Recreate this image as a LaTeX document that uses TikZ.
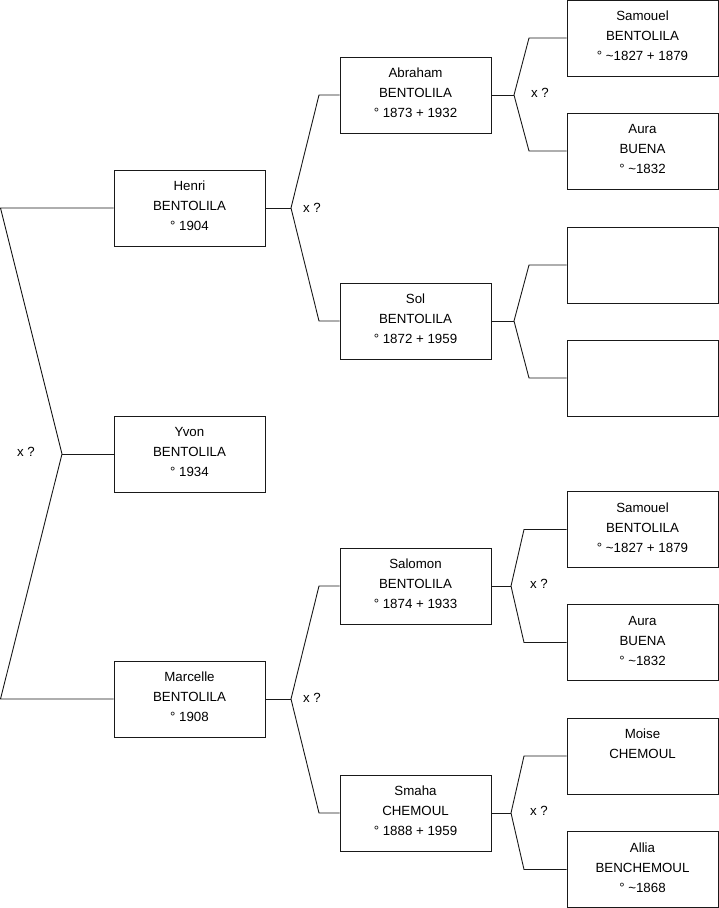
\documentclass[tikz,border=0pt]{standalone}
\usepackage{fontspec}
\setmainfont{Liberation Sans}
\begin{document}
\begin{tikzpicture}[x=1pt,y=-1pt,
  person/.style={draw=black!90, line width=0.9pt, minimum width=151pt, minimum height=76pt,
    inner sep=0pt, align=center, font=\fontsize{13.3}{20}\selectfont,
    execute at end node={\rule[-4pt]{0pt}{4pt}}},
  link/.style={draw=black!90, line width=0.9pt},
  xq/.style={font=\fontsize{13.3}{16}\selectfont, inner sep=0pt}]
\useasboundingbox (0,0) rectangle (719,908);

% generation 1
\node[person] (henri) at (189.5,208) {Henri\\BENTOLILA\\° 1904};
\node[person] (yvon) at (189.5,454) {Yvon\\BENTOLILA\\° 1934};
\node[person] (marcelle) at (189.5,699) {Marcelle\\BENTOLILA\\° 1908};

% generation 2
\node[person] (abraham) at (415.5,95) {Abraham\\BENTOLILA\\° 1873 + 1932};
\node[person] (sol) at (415.5,321) {Sol\\BENTOLILA\\° 1872 + 1959};
\node[person] (salomon) at (415.5,586) {Salomon\\BENTOLILA\\° 1874 + 1933};
\node[person] (smaha) at (415.5,813) {Smaha\\CHEMOUL\\° 1888 + 1959};

% generation 3
\node[person] (samouel) at (642.5,38) {Samouel\\BENTOLILA\\° \textasciitilde1827 + 1879};
\node[person] (aura) at (642.5,151) {Aura\\BUENA\\° \textasciitilde1832};
\node[person] (emptya) at (642.5,265) {};
\node[person] (emptyb) at (642.5,378) {};
\node[person] (samouelb) at (642.5,529.5) {Samouel\\BENTOLILA\\° \textasciitilde1827 + 1879};
\node[person] (aurab) at (642.5,642.5) {Aura\\BUENA\\° \textasciitilde1832};
\node[person] (moise) at (642.5,756) {Moise\\CHEMOUL\\\mbox{}};
\node[person] (allia) at (642.5,869.5) {Allia\\BENCHEMOUL\\° \textasciitilde1868};

% junction coordinates
\coordinate (ltop) at (0.5,208);
\coordinate (lbot) at (0.5,699);
\coordinate (lj) at (62,454);
\coordinate (hj) at (291,208);
\coordinate (hu) at (319,95);
\coordinate (hd) at (319,321);
\coordinate (mj) at (291,699);
\coordinate (mu) at (319,586);
\coordinate (md) at (319,813);
\coordinate (aj) at (514,95);
\coordinate (au) at (529,38);
\coordinate (ad) at (529,151);
\coordinate (sj) at (514,321);
\coordinate (su) at (529,265);
\coordinate (sd) at (529,378);
\coordinate (oj) at (511,586);
\coordinate (ou) at (524,529.5);
\coordinate (od) at (524,642.5);
\coordinate (cj) at (511,813);
\coordinate (cu) at (524,756);
\coordinate (cd) at (524,869.5);

% connectors
\draw[link] (henri.west) -- (ltop) -- (lj) -- (lbot) -- (marcelle.west);
\draw[link] (lj) -- (yvon.west);

\draw[link] (henri.east) -- (hj);
\draw[link] (abraham.west) -- (hu) -- (hj) -- (hd) -- (sol.west);
\draw[link] (marcelle.east) -- (mj);
\draw[link] (salomon.west) -- (mu) -- (mj) -- (md) -- (smaha.west);

\draw[link] (abraham.east) -- (aj);
\draw[link] (samouel.west) -- (au) -- (aj) -- (ad) -- (aura.west);
\draw[link] (sol.east) -- (sj);
\draw[link] (emptya.west) -- (su) -- (sj) -- (sd) -- (emptyb.west);
\draw[link] (salomon.east) -- (oj);
\draw[link] (samouelb.west) -- (ou) -- (oj) -- (od) -- (aurab.west);
\draw[link] (smaha.east) -- (cj);
\draw[link] (moise.west) -- (cu) -- (cj) -- (cd) -- (allia.west);

% labels
\node[xq] (xl) at (26,452) {x ?};
\node[xq] (xh) at (312,208) {x ?};
\node[xq] (xm) at (312,698) {x ?};
\node[xq] (xa) at (540,93) {x ?};
\node[xq] (xo) at (539,584) {x ?};
\node[xq] (xc) at (539,811) {x ?};
\end{tikzpicture}
\end{document}
